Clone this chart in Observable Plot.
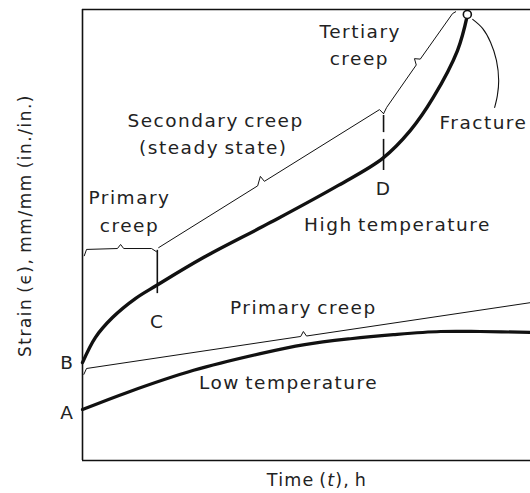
<!DOCTYPE html>
<html><head><meta charset="utf-8">
<script src="https://cdn.jsdelivr.net/npm/d3@7"></script>
<script src="https://cdn.jsdelivr.net/npm/@observablehq/plot@0.6"></script>
<style>
body{margin:0;background:#fff;}
#cap{width:530px;box-sizing:border-box;padding-left:104px;text-align:center;font-family:"DejaVu Sans";font-size:17.5px;letter-spacing:1.2px;word-spacing:-2px;color:#222;line-height:28px;}
</style></head><body>
<div id="chart"></div>
<div id="cap">Time (<i>t</i>), h</div>
<script>
// Data in arbitrary units: time 0–100 (frame width), strain 0–100 (frame height)
const highT = [0, 2.9, 6.7, 11.8, 16.5, 27.0, 42.0, 57.1, 67.0, 73.2, 78.3, 83.7, 85.9];
const highS = [21.7, 27.3, 31.7, 35.9, 38.8, 45.0, 52.8, 61.0, 67.0, 73.2, 80.5, 90.9, 98.7];

const lowT = [0, 10.0, 24.8, 39.7, 49.6, 59.8, 69.4, 79.9, 88.8, 100];
const lowS = [11.3, 15.1, 20.0, 23.7, 25.7, 27.0, 27.9, 28.6, 28.6, 28.4];

// brace lines
const lowBraceT = [0.3, 0.9, 48.7, 49.3, 50.0, 100];
const lowBraceS = [19.1, 20.4, 27.5, 28.6, 27.6, 35.0];
const primBraceT = [0.4, 0.9, 7.8, 8.5, 9.2, 15.4, 16.5];
const primBraceS = [45.4, 46.8, 47.0, 47.9, 47.0, 47.0, 46.3];
const secBraceT = [17.0, 39.1, 39.7, 40.6, 66.3, 67.2];
const secBraceS = [47.2, 60.9, 63.0, 61.9, 77.8, 76.9];
const terBraceT = [67.2, 67.9, 74.5, 74.1, 75.4, 82.6, 83.3];
const terBraceS = [76.9, 78.3, 87.7, 89.1, 89.0, 99.1, 99.5];
const fracLeadT = [87.1, 89.3, 91.1, 92.4, 92.9, 92.6, 92.0];
const fracLeadS = [97.8, 95.8, 92.7, 88.7, 84.2, 80.9, 78.3];

// fracture point
const fractureT = [85.9];
const fractureS = [98.9];

// markers at C and D
const markT = [16.7, 67.2, 67.2];
const markS1 = [37.0, 72.7, 64.3];
const markS2 = [46.6, 76.5, 71.2];

// labels
const labels = ["Tertiary", "creep", "Fracture", "Secondary creep", "(steady state)", "Primary", "creep", "D", "High temperature", "C", "Primary creep", "Low temperature"];
const labelT = [62.0, 61.8, 89.5, 29.7, 29.2, 10.5, 10.5, 67.2, 70.3, 16.7, 49.3, 46.0];
const labelS = [94.9, 89.1, 74.9, 75.2, 69.2, 58.1, 51.9, 60.1, 52.3, 30.6, 33.9, 17.1];

const axisLabels = ["B", "A"];
const axisLabelS = [21.7, 10.6];

const yTitle = "Strain (ϵ), mm/mm (in./in.)";
const yTitleT = -12.7, yTitleS = 52.1;

const pts = (T, S) => T.map((t, i) => ({t, s: S[i]}));
const ink = "#111";

const chart = Plot.plot({
  width: 530, height: 466,
  marginLeft: 82, marginRight: 0, marginTop: 9, marginBottom: 6,
  x: {domain: [0, 100], axis: null},
  y: {domain: [0, 100], axis: null},
  style: {fontFamily: "DejaVu Sans", fontSize: "18.5px", letterSpacing: "1.5px", wordSpacing: "-2px", color: "#222", background: "#fff", overflow: "visible"},
  marks: [
    Plot.ruleX([0], {stroke: ink, strokeWidth: 1.6}),
    Plot.ruleY([0, 100], {stroke: ink, strokeWidth: 1.6}),
    Plot.line(pts(lowBraceT, lowBraceS), {x: "t", y: "s", stroke: ink, strokeWidth: 1}),
    Plot.line(pts(primBraceT, primBraceS), {x: "t", y: "s", stroke: ink, strokeWidth: 1}),
    Plot.line(pts(secBraceT, secBraceS), {x: "t", y: "s", stroke: ink, strokeWidth: 1}),
    Plot.line(pts(terBraceT, terBraceS), {x: "t", y: "s", stroke: ink, strokeWidth: 1}),
    Plot.line(pts(fracLeadT, fracLeadS), {x: "t", y: "s", stroke: ink, strokeWidth: 1.1, curve: "catmull-rom"}),
    Plot.ruleX(markT.map((t, i) => ({t, s1: markS1[i], s2: markS2[i]})), {x: "t", y1: "s1", y2: "s2", stroke: ink, strokeWidth: 1.6}),
    Plot.line(pts(lowT, lowS), {x: "t", y: "s", stroke: ink, strokeWidth: 3.2, curve: "catmull-rom"}),
    Plot.line(pts(highT, highS), {x: "t", y: "s", stroke: ink, strokeWidth: 3.4, curve: "catmull-rom"}),
    Plot.dot(pts(fractureT, fractureS), {x: "t", y: "s", r: 4, fill: "white", stroke: ink, strokeWidth: 1.6}),
    Plot.text(labels.map((label, i) => ({label, t: labelT[i], s: labelS[i]})), {x: "t", y: "s", text: "label", fontSize: 18.5, fill: "#222"}),
    Plot.text(axisLabels.map((label, i) => ({label, t: 0, s: axisLabelS[i]})), {x: "t", y: "s", text: "label", textAnchor: "end", dx: -8, fontSize: 18.5, fill: "#222"}),
    Plot.text([{label: yTitle, t: yTitleT, s: yTitleS}], {x: "t", y: "s", text: "label", rotate: -90, fontSize: 17, fill: "#222"})
  ]
});
document.getElementById("chart").appendChild(chart);
</script>
</body></html>
